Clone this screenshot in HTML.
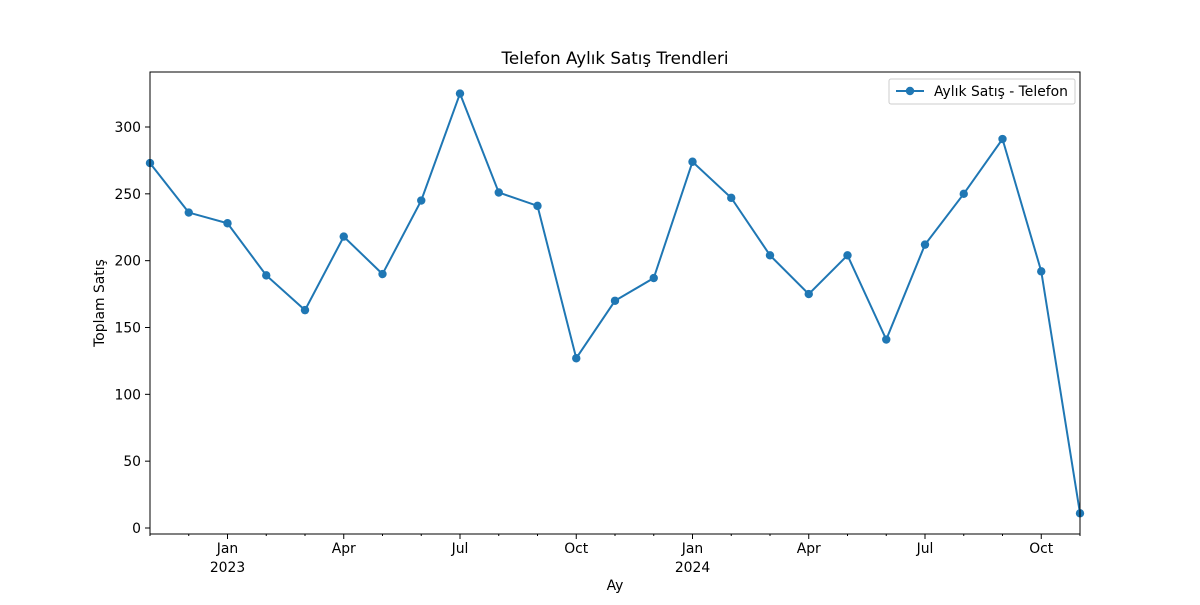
<!DOCTYPE html>
<html><head><meta charset="utf-8"><style>
body{margin:0;background:#fff;}
svg text{font-family:"DejaVu Sans","Liberation Sans",sans-serif;fill:#000;}
</style></head><body>
<svg id="chart" width="1200" height="600" xmlns="http://www.w3.org/2000/svg">
<rect width="1200" height="600" fill="#fff"/>
<text x="615" y="64" font-size="16.7" text-anchor="middle">Telefon Aylık Satış Trendleri</text>
<g id="grid"></g>
<g id="series"></g>
<rect x="150" y="72" width="930" height="462" fill="none" stroke="#000" stroke-width="1"/>
<text x="615" y="590" font-size="13.9" text-anchor="middle">Ay</text>
<text transform="translate(104,303) rotate(-90)" font-size="13.9" text-anchor="middle">Toplam Satış</text>
<g>
<rect x="889" y="79" width="186" height="25" fill="#fff" stroke="#ccc" rx="2"/>
<line x1="896" y1="91" x2="924" y2="91" stroke="#1f77b4" stroke-width="2"/>
<circle cx="910" cy="91" r="4.2" fill="#1f77b4"/>
<text x="934" y="96" font-size="13.9">Aylık Satış - Telefon</text>
</g>
</svg>
<script>
const months=["2022-11","2022-12","2023-01","2023-02","2023-03","2023-04","2023-05","2023-06","2023-07","2023-08","2023-09","2023-10","2023-11","2023-12","2024-01","2024-02","2024-03","2024-04","2024-05","2024-06","2024-07","2024-08","2024-09","2024-10","2024-11"];
const sales=[273,236,228,189,163,218,190,245,325,251,241,127,170,187,274,247,204,175,204,141,212,250,291,192,11];
const yTicks=[0,50,100,150,200,250,300];
const xTickIdx=[2,5,8,11,14,17,20,23];
const xTickLabels=["Jan\n2023","Apr","Jul","Oct","Jan\n2024","Apr","Jul","Oct"];
const NS="http://www.w3.org/2000/svg";
const x=i=>150+i*(930/(months.length-1));
const y=v=>528-v*(401/300);
const g=document.getElementById('grid');
const s=document.getElementById('series');
function mk(t,a,p){const e=document.createElementNS(NS,t);for(const k in a)e.setAttribute(k,a[k]);p.appendChild(e);return e;}
yTicks.forEach(v=>{
 const l=mk('line',{x1:145,x2:150,y1:y(v),y2:y(v),stroke:'#000'},g);
 
 
 const t=mk('text',{x:141,y:y(v)+5,'font-size':13.9,'text-anchor':'end'},g);
 t.textContent=v;
 
 
});
months.forEach((m,i)=>{
 const major=xTickIdx.includes(i);
 const l=mk('line',{x1:x(i),x2:x(i),y1:534,y2:major?539:536,stroke:'#000'},g);
 
 
});
xTickIdx.forEach((idx,k)=>{
 xTickLabels[k].split("\n").forEach((ln,j)=>{
  const t=mk('text',{x:x(idx),y:553+j*19,'font-size':13.9,'text-anchor':'middle'},g);
  t.textContent=ln;
  
  
 });
});
const pl=mk('polyline',{points:sales.map((v,i)=>x(i)+','+y(v)).join(' '),fill:'none',stroke:'#1f77b4','stroke-width':2},s);


sales.forEach((v,i)=>{
 const c=mk('circle',{cx:x(i),cy:y(v),r:4.2,fill:'#1f77b4'},s);
 
 
});
</script>
</body></html>
